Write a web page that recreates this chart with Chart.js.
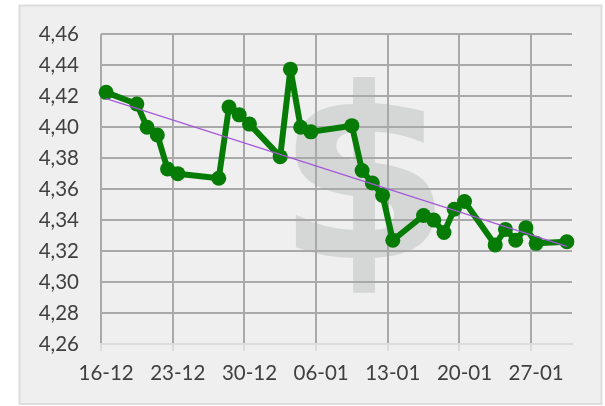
<!DOCTYPE html>
<html>
<head>
<meta charset="utf-8">
<style>
  html, body { margin: 0; padding: 0; background: #fff; }
  canvas { display: block; }
</style>
<script src="https://cdn.jsdelivr.net/npm/chart.js@4"></script>
</head>
<body>
<canvas id="grafico" width="605" height="406"></canvas>
<script>
const categories = [
  "16-12", "17-12", "18-12", "19-12", "20-12", "21-12", "22-12", "23-12",
  "24-12", "25-12", "26-12", "27-12", "28-12", "29-12", "30-12", "31-12",
  "01-01", "02-01", "03-01", "04-01", "05-01", "06-01", "07-01", "08-01",
  "09-01", "10-01", "11-01", "12-01", "13-01", "14-01", "15-01", "16-01",
  "17-01", "18-01", "19-01", "20-01", "21-01", "22-01", "23-01", "24-01",
  "25-01", "26-01", "27-01", "28-01", "29-01", "30-01"
];
const precio = [
  4.4225, null, null, 4.415, 4.400, 4.395, 4.373, 4.370,
  null, null, null, 4.367, 4.413, 4.408, 4.402, null,
  null, 4.381, 4.4375, 4.400, 4.397, null, null, null,
  4.401, 4.372, 4.364, 4.356, 4.327, null, null, 4.343,
  4.340, 4.332, 4.347, 4.352, null, null, 4.324, 4.334,
  4.327, 4.335, 4.325, null, null, 4.326
];
const tendencia = categories.map(() => null);
tendencia[0] = 4.4185;
tendencia[45] = 4.323;

const GRIS = "#a9a9a9";
const CLARO = "#dcdcdc";

// panel de fondo y el signo $ de marca de agua
const fondo = {
  id: "fondo",
  beforeDraw(chart) {
    const c = chart.ctx;
    c.save();
    c.fillStyle = "#efefef";
    c.strokeStyle = "#dddddd";
    c.lineWidth = 2;
    c.fillRect(19.5, 5.5, 582, 398.5);
    c.strokeRect(19.5, 5.5, 582, 398.5);
    c.fillStyle = "#d5d7d7";
    c.strokeStyle = "#d5d7d7";
    c.font = "bold 235px 'DejaVu Sans'";
    c.textAlign = "center";
    c.textBaseline = "alphabetic";
    c.translate(364, 257);
    c.scale(1.06, 1);
    c.fillText("$", 0, 0);
    c.strokeText("$", 0, 0);
    c.restore();
  }
};

new Chart(document.getElementById("grafico"), {
  type: "line",
  plugins: [fondo],
  data: {
    labels: categories,
    datasets: [
      {
        label: "Tendencia",
        data: tendencia,
        spanGaps: true,
        borderColor: "#a558d8",
        borderWidth: 1.2,
        pointRadius: 0,
        order: 1
      },
      {
        label: "Precio",
        data: precio,
        spanGaps: true,
        borderColor: "#067c06",
        backgroundColor: "#067c06",
        borderWidth: 6,
        borderJoinStyle: "round",
        tension: 0,
        pointRadius: 7.5,
        pointBorderWidth: 0,
        pointBackgroundColor: "#067c06",
        order: 2
      }
    ]
  },
  options: {
    responsive: false,
    animation: false,
    events: [],
    layout: { padding: { top: 34, right: 33, left: 0, bottom: 0 } },
    plugins: { legend: { display: false }, tooltip: { enabled: false } },
    scales: {
      x: {
        offset: true,
        border: { color: CLARO, width: 2 },
        grid: {
          offset: true,
          lineWidth: 2,
          tickLength: 7,
          color: (ctx) => (ctx.index % 7 === 0 ? GRIS : "transparent"),
          tickColor: (ctx) => (ctx.index % 7 === 0 ? CLARO : "transparent")
        },
        ticks: {
          autoSkip: false,
          maxRotation: 0,
          padding: 10,
          color: "#404040",
          font: { family: "Lato", size: 20.5 },
          callback(value, i) { return i % 7 === 0 ? categories[i] : ""; }
        },
        afterFit(scale) { scale.height = 62; }
      },
      y: {
        min: 4.26,
        max: 4.46,
        border: { display: false },
        grid: {
          drawTicks: false,
          lineWidth: 2,
          color: (ctx) => (ctx.index === 0 ? "transparent" : GRIS)
        },
        ticks: {
          stepSize: 0.02,
          padding: 22,
          color: "#404040",
          font: { family: "Lato", size: 20.5 },
          callback(value) { return value.toFixed(2).replace(".", ","); }
        },
        afterFit(scale) { scale.width = 101; }
      }
    }
  }
});
</script>
</body>
</html>
